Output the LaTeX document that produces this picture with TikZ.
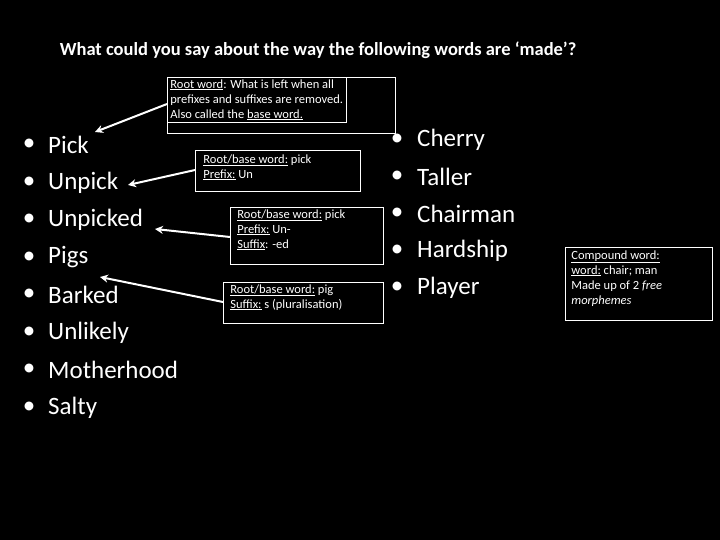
\documentclass[tikz,border=0pt]{standalone}
\usepackage{fontspec}
\setmainfont{Carlito}
\usetikzlibrary{arrows.meta}
\begin{document}
\begin{tikzpicture}[x=1pt,y=-1pt,
 box/.style={draw=white,line width=0.8pt,text=white,align=left,anchor=north west,inner xsep=3pt,inner ysep=2pt,font=\fontsize{12.5}{15}\selectfont},
 word/.style={text=white,anchor=west,font=\fontsize{25}{28}\selectfont,inner sep=0},
 bul/.style={text=white,font=\fontsize{25}{28}\selectfont,inner sep=0},
 arr/.style={draw=white,line width=2pt,-{Stealth[length=8pt,width=8pt]}}]
\useasboundingbox[fill=black] (0,0) rectangle (720,540);
\node[text=white,font=\fontsize{18.5}{20}\selectfont\bfseries] (title) at (318,50) {What could you say about the way the following words are ‘made’?};
\foreach \w [count=\i] in {Pick,Unpick,Unpicked,Pigs,Barked,Unlikely,Motherhood,Salty}{
 \node[word] (w\i) at (48,{145+37.5*(\i-1)}) {\w};
 \node[bul] (b\i) at (29,{145+37.5*(\i-1)}) {•};
}
\foreach \w [count=\i] in {Cherry,Taller,Chairman,Hardship,Player}{
 \node[word] (r\i) at (417,{140+37*(\i-1)}) {\w};
 \node[bul] (rb\i) at (397,{140+37*(\i-1)}) {•};
}
\draw[white,line width=0.8pt] (167,77) rectangle (395,133);
\node[box] (k1) at (167,77) {\underline{Root word}: What is left when all\\prefixes and suffixes are removed.\\Also called the \underline{base word.}};
\draw[white,line width=0.8pt] (195,150) rectangle (360,191);
\node[box,draw=none] (k2) at (200,152) {\underline{Root/base word:} pick\\\underline{Prefix:} Un};
\draw[white,line width=0.8pt] (230,207) rectangle (383,264);
\node[box,draw=none] (k3) at (234,207) {\underline{Root/base word:} pick\\\underline{Prefix:} Un-\\\underline{Suffix}: -ed};
\draw[white,line width=0.8pt] (223,282) rectangle (383,323);
\node[box,draw=none] (k4) at (227,282) {\underline{Root/base word:} pig\\\underline{Suffix:} s (pluralisation)};
\draw[white,line width=0.8pt] (565,247) rectangle (712,320);
\node[box,draw=none] (k5) at (568,248) {\underline{Compound word:}\\\underline{word:} chair; man\\Made up of 2 \textit{free}\\\textit{morphemes}};
\coordinate (a1) at (95,132); \coordinate (a2) at (128,185);
\coordinate (a3) at (155,229); \coordinate (a4) at (100,277);
\coordinate (s1) at (167,104); \coordinate (s2) at (195,170);
\coordinate (s3) at (230,237); \coordinate (s4) at (223,302);
\draw[arr] (s1) -- (a1);
\draw[arr] (s2) -- (a2);
\draw[arr] (s3) -- (a3);
\draw[arr] (s4) -- (a4);
\end{tikzpicture}
\end{document}
